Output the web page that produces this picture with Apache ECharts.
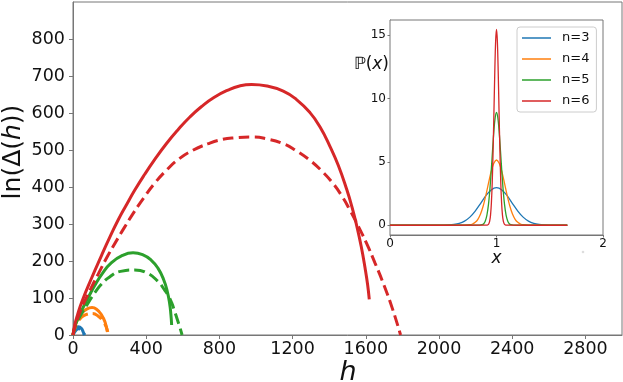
<html>
<head>
<meta charset="UTF-8">
<title>ln Delta(h)</title>
<script src="https://cdn.jsdelivr.net/npm/echarts@6.0.0/dist/echarts.min.js"></script>
<style>
    body { margin: 0; padding: 0; border: none; }
    #echart { width: 623px; height: 382px; }
</style>
</head>
<body>
<div id="echart"></div>
<script>
    // main plot: [h, ln(Delta(h))]
    const n3Solid = [[0,0],[15,16],[30,22],[45,18],[56,8],[62,0]];
    const n3Dash  = [[0,0],[15,12],[30,17],[45,14],[56,6],[64,0]];
    const n4Solid = [[0,0],[10,22],[25,42],[45,58],[75,70],[104,74],[130,69],[155,55],[175,35],[187,9]];
    const n4Dash  = [[0,0],[10,18],[25,34],[45,47],[75,56],[105,58],[140,50],[165,36],[182,21],[190,8]];
    const n5Solid = [[0,0],[10,22],[25,42],[45,64],[82,100],[118,133],[160,166],[209,195],[270,215],[328,222],
                     [380,217],[428,202],[465,180],[495,150],[515,118],[528,85],[535,55],[539,27]];
    const n5Dash  = [[0,0],[10,20],[25,38],[45,56],[82,86],[120,115],[155,137],[200,157],[260,172],[337,176],
                     [400,169],[464,145],[500,122],[519,108],[540,86],[556,63],[570,42],[585,19],[596,0]];
    const n6Solid = [[0,0],[10,28],[25,55],[50,92],[100,152],[155,214],[200,263],[246,310],[290,350],[337,391],
                     [390,433],[446,474],[510,517],[574,555],[640,590],[701,617],[770,642],[847,662],[910,673],
                     [976,677],[1060,673],[1149,659],[1220,637],[1295,601],[1350,562],[1404,510],[1450,458],
                     [1496,393],[1525,345],[1550,296],[1575,239],[1596,181],[1610,136],[1619,96]];
    const n6Dash  = [[0,0],[10,22],[25,44],[50,76],[100,128],[137,164],[190,214],[246,262],[290,298],[337,335],
                     [390,373],[446,410],[510,445],[574,474],[650,498],[738,517],[810,528],[883,533],[980,535],
                     [1060,530],[1149,517],[1220,498],[1295,472],[1360,443],[1422,409],[1470,375],[1514,337],
                     [1560,293],[1605,247],[1650,195],[1696,139],[1745,72],[1790,0]];

    // inset: P(x)
    const insetNames = ['n=3', 'n=4', 'n=5', 'n=6'];
    const px3 = [0,0.45,0.5,0.55,0.6,0.65,0.7,0.75,0.8,0.85,0.9,0.95,1.0,1.05,1.1,1.15,1.2,1.25,1.3,1.35,1.4,1.45,1.5,1.55,1.665];
    const py3 = [0,0.002,0.007,0.02,0.06,0.15,0.33,0.64,1.12,1.71,2.33,2.79,2.97,2.79,2.33,1.71,1.12,0.64,0.33,0.15,0.06,0.02,0.007,0.002,0];
    const px4 = [0,0.7,0.75,0.775,0.8,0.825,0.85,0.875,0.9,0.925,0.95,0.975,1.0,1.025,1.05,1.075,1.1,1.125,1.15,1.175,1.2,1.225,1.25,1.3,1.665];
    const py4 = [0,0.005,0.04,0.10,0.23,0.47,0.89,1.52,2.36,3.32,4.24,4.90,5.15,4.90,4.24,3.32,2.36,1.52,0.89,0.47,0.23,0.10,0.04,0.005,0];
    const px5 = [0,0.84,0.865,0.88,0.895,0.91,0.925,0.94,0.955,0.97,0.985,1.0,1.015,1.03,1.045,1.06,1.075,1.09,1.105,1.12,1.135,1.16,1.665];
    const py5 = [0,0.005,0.04,0.12,0.34,0.80,1.67,3.05,4.88,6.81,8.32,8.9,8.32,6.81,4.88,3.05,1.67,0.80,0.34,0.12,0.04,0.005,0];
    const px6 = [0,0.905,0.92,0.928,0.936,0.944,0.952,0.96,0.968,0.976,0.984,0.992,1.0,1.008,1.016,1.024,1.032,1.04,1.048,1.056,1.064,1.072,1.08,1.095,1.665];
    const py6 = [0,0.002,0.04,0.12,0.32,0.80,1.75,3.40,5.87,8.96,12.13,14.54,15.45,14.54,12.13,8.96,5.87,3.40,1.75,0.80,0.32,0.12,0.04,0.002,0];

    const colors = ['#1f77b4', '#ff7f0e', '#2ca02c', '#d62728'];
    const font = 'DejaVu Sans';
    const frame = '#777';

    function zip(xs, ys) {
        return xs.map((x, i) => [x, ys[i]]);
    }

    function mainLine(data, color, dashed) {
        return {
            type: 'line', xAxisIndex: 0, yAxisIndex: 0,
            data: data, symbol: 'none', smooth: 0.5, silent: true,
            lineStyle: { color: color, width: 3, type: dashed ? [11, 5] : 'solid', cap: 'butt' }
        };
    }

    function insetLine(name, xs, ys, color) {
        return {
            type: 'line', name: name, xAxisIndex: 1, yAxisIndex: 1,
            data: zip(xs, ys), symbol: 'none', smooth: 0.3, silent: true, z: 5,
            itemStyle: { color: color },
            lineStyle: { color: color, width: 1.3 }
        };
    }

    function buildOption() {
        return {
            animation: false,
            textStyle: { fontFamily: font },
            grid: [
                { left: 73, right: 1, top: 2, bottom: 47, show: true, borderColor: frame, borderWidth: 1 },
                { left: 390, right: 20, top: 20, bottom: 147, show: true, borderColor: frame, borderWidth: 1,
                  backgroundColor: '#fff', z: 4 }
            ],
            xAxis: [
                {
                    type: 'value', gridIndex: 0, min: 0, max: 3000, interval: 400,
                    axisLine: { show: true, onZero: false, lineStyle: { color: frame } },
                    axisTick: { show: true, length: 4, lineStyle: { color: frame } },
                    axisLabel: { fontSize: 17.5, color: '#111', margin: 5, showMaxLabel: false, fontFamily: font,
                                 formatter: v => String(v) },
                    splitLine: { show: false }
                },
                {
                    type: 'value', gridIndex: 1, min: 0, max: 2, interval: 1,
                    axisLine: { show: true, onZero: false, lineStyle: { color: frame } },
                    axisTick: { show: true, length: 2.5, lineStyle: { color: frame } },
                    axisLabel: { fontSize: 12, color: '#111', margin: 3, fontFamily: font },
                    splitLine: { show: false }
                }
            ],
            yAxis: [
                {
                    type: 'value', gridIndex: 0, min: 0, max: 900, interval: 100,
                    axisLine: { show: true, onZero: false, lineStyle: { color: frame } },
                    axisTick: { show: true, length: 4, lineStyle: { color: frame } },
                    axisLabel: { fontSize: 17.5, color: '#111', margin: 8, showMaxLabel: false, fontFamily: font },
                    splitLine: { show: false }
                },
                {
                    type: 'value', gridIndex: 1, min: -0.77, max: 16.2,
                    axisLine: { show: true, onZero: false, lineStyle: { color: frame } },
                    axisTick: { show: true, length: 2.5, lineStyle: { color: frame }, customValues: [0, 5, 10, 15] },
                    axisLabel: { fontSize: 12, color: '#111', margin: 4, fontFamily: font, customValues: [0, 5, 10, 15] },
                    splitLine: { show: false }
                }
            ],
            legend: {
                data: insetNames, orient: 'vertical', left: 517, top: 27,
                icon: 'rect', itemWidth: 29, itemHeight: 1.5, itemGap: 7,
                padding: [4, 7, 4, 5],
                borderColor: '#ccc', borderWidth: 1, borderRadius: 3, backgroundColor: '#fff',
                textStyle: { fontSize: 13, lineHeight: 14, color: '#111', fontFamily: font, padding: [0, 0, 0, 6] },
                selectedMode: false, z: 10
            },
            graphic: [
                {
                    type: 'text', x: 13, y: 152, rotation: Math.PI / 2, silent: true,
                    style: {
                        text: '{a|ln(Δ(}{b|h}{a|))}', align: 'center', verticalAlign: 'middle',
                        rich: {
                            a: { fontSize: 25, fontFamily: font, fill: '#111' },
                            b: { fontSize: 25, fontFamily: font, fontStyle: 'italic', fill: '#111' }
                        }
                    }
                },
                {
                    type: 'text', x: 348, y: 373, silent: true,
                    style: { text: 'h', font: 'italic 27px "DejaVu Sans"', fill: '#111', align: 'center', verticalAlign: 'middle' }
                },
                {
                    type: 'text', x: 389, y: 65, silent: true, z: 20,
                    style: {
                        text: '{a|ℙ(}{b|x}{a|)}', align: 'right', verticalAlign: 'middle',
                        rich: {
                            a: { fontSize: 17, fontFamily: font, fill: '#111' },
                            b: { fontSize: 17, fontFamily: font, fontStyle: 'italic', fill: '#111' }
                        }
                    }
                },
                {
                    type: 'text', x: 496.5, y: 259, silent: true,
                    style: { text: 'x', font: 'italic 17px "DejaVu Sans"', fill: '#111', align: 'center', verticalAlign: 'middle' }
                },
                {
                    type: 'circle', shape: { cx: 583, cy: 252, r: 1.3 }, silent: true,
                    style: { fill: '#ddd' }
                }
            ],
            series: [
                mainLine(n3Solid, colors[0], false), mainLine(n3Dash, colors[0], true),
                mainLine(n4Solid, colors[1], false), mainLine(n4Dash, colors[1], true),
                mainLine(n5Solid, colors[2], false), mainLine(n5Dash, colors[2], true),
                mainLine(n6Solid, colors[3], false), mainLine(n6Dash, colors[3], true),
                insetLine(insetNames[0], px3, py3, colors[0]),
                insetLine(insetNames[1], px4, py4, colors[1]),
                insetLine(insetNames[2], px5, py5, colors[2]),
                insetLine(insetNames[3], px6, py6, colors[3])
            ]
        };
    }

    window.onload = function () {
        const ec = echarts.init(document.getElementById('echart'));
        ec.setOption(buildOption(), true);
    };
</script>
</body>
</html>
